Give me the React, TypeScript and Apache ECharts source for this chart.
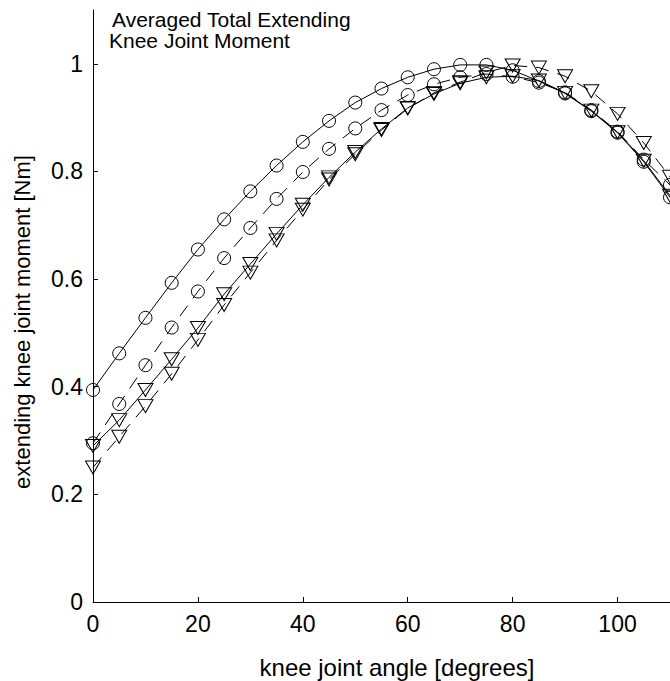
import React, { useEffect, useRef } from "react";
import * as echarts from "echarts";

const angles = [0, 5, 10, 15, 20, 25, 30, 35, 40, 45, 50, 55, 60, 65, 70, 75, 80, 85, 90, 95, 100, 105, 110, 115];
const solidCircles = [0.394, 0.462, 0.528, 0.593, 0.655, 0.711, 0.763, 0.811, 0.855, 0.894, 0.928, 0.954, 0.975, 0.99, 0.998, 0.998, 0.988, 0.968, 0.945, 0.912, 0.872, 0.818, 0.752, 0.68];
const dashedCircles = [0.295, 0.368, 0.44, 0.51, 0.577, 0.639, 0.695, 0.749, 0.799, 0.842, 0.88, 0.914, 0.942, 0.962, 0.975, 0.981, 0.976, 0.965, 0.947, 0.914, 0.874, 0.822, 0.775, 0.7];
const solidTriangles = [0.29, 0.338, 0.394, 0.451, 0.509, 0.572, 0.628, 0.684, 0.738, 0.789, 0.836, 0.879, 0.918, 0.944, 0.964, 0.975, 0.977, 0.969, 0.946, 0.913, 0.873, 0.82, 0.755, 0.69];
const dashedTriangles = [0.25, 0.307, 0.364, 0.424, 0.487, 0.552, 0.612, 0.672, 0.729, 0.785, 0.832, 0.877, 0.917, 0.946, 0.966, 0.984, 0.997, 0.993, 0.977, 0.949, 0.907, 0.853, 0.79, 0.72];

const xTicks = [0, 20, 40, 60, 80, 100];
const yTicks = [0, 0.2, 0.4, 0.6, 0.8, 1];

const titleLines = ["Averaged Total Extending", "Knee Joint Moment"];
const xName = "knee joint angle [degrees]";
const yName = "extending knee joint moment [Nm]";

const FONT = "'Liberation Sans', Arial, Helvetica, sans-serif";

function mkSeries(values: number[], symbol: string, dashed: boolean) {
  return {
    type: "line",
    data: angles.map((a, i) => [a, values[i]]),
    symbol,
    symbolSize: symbol === "triangle" ? [15, 13] : 13,
    symbolRotate: symbol === "triangle" ? 180 : 0,
    showAllSymbol: true,
    itemStyle: { color: "rgba(0,0,0,0)", borderColor: "#000", borderWidth: 1 },
    lineStyle: { color: "#000", width: 1, type: dashed ? [13, 9] : "solid" },
    emphasis: { disabled: true },
    silent: true,
    clip: true,
  };
}

export default function App() {
  const ref = useRef<HTMLDivElement>(null);
  useEffect(() => {
    if (!ref.current) return;
    const chart = echarts.init(ref.current, null, { renderer: "svg" });
    chart.setOption({
      animation: false,
      backgroundColor: "#fff",
      grid: { left: 93, top: 10, right: 0, bottom: 79, containLabel: false },
      xAxis: {
        type: "value",
        min: 0,
        max: 110,
        interval: 20,
        axisLine: { show: true, lineStyle: { color: "#000", width: 1 } },
        axisTick: { show: true, inside: true, length: 5, lineStyle: { color: "#000" }, customValues: xTicks },
        axisLabel: { color: "#000", fontSize: 23, fontFamily: FONT, margin: 10, customValues: xTicks },
        splitLine: { show: false },
      },
      yAxis: {
        type: "value",
        min: 0,
        max: 1.1,
        interval: 0.2,
        axisLine: { show: true, lineStyle: { color: "#000", width: 1 } },
        axisTick: { show: true, inside: true, length: 5, lineStyle: { color: "#000" }, customValues: yTicks },
        axisLabel: { color: "#000", fontSize: 23, fontFamily: FONT, margin: 10, customValues: yTicks },
        splitLine: { show: false },
      },
      graphic: [
        {
          type: "text",
          x: 112,
          y: 19.5,
          style: { text: titleLines[0], fontSize: 21, fontFamily: FONT, fill: "#000", verticalAlign: "middle" },
        },
        {
          type: "text",
          x: 109,
          y: 40.5,
          style: { text: titleLines[1], fontSize: 21, fontFamily: FONT, fill: "#000", verticalAlign: "middle" },
        },
        {
          type: "text",
          x: 397,
          y: 667,
          style: { text: xName, fontSize: 24, fontFamily: FONT, fill: "#000", align: "center", verticalAlign: "middle" },
        },
        {
          type: "text",
          x: 22,
          y: 322,
          rotation: Math.PI / 2,
          style: { text: yName, fontSize: 22, fontFamily: FONT, fill: "#000", align: "center", verticalAlign: "middle" },
        },
      ],
      series: [
        mkSeries(solidCircles, "circle", false),
        mkSeries(dashedCircles, "circle", true),
        mkSeries(solidTriangles, "triangle", false),
        mkSeries(dashedTriangles, "triangle", true),
      ],
    });
    return () => chart.dispose();
  }, []);
  return (
    <div
      ref={ref}
      style={{ position: "absolute", left: 0, top: 0, width: 670, height: 681 }}
    />
  );
}
